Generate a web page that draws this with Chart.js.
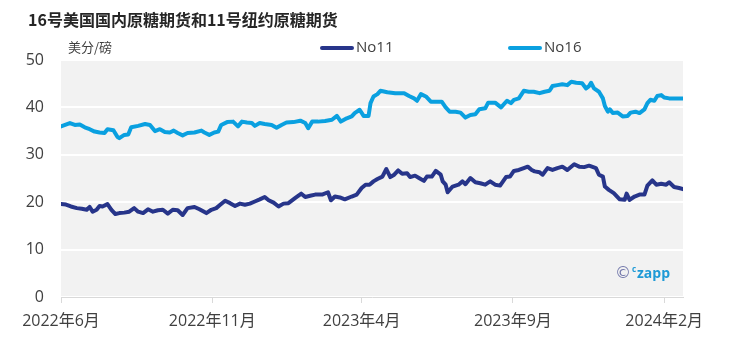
<!DOCTYPE html>
<html>
<head>
<meta charset="utf-8">
<script src="https://cdn.jsdelivr.net/npm/chart.js@4/dist/chart.umd.min.js"></script>
<style>
  html, body { margin: 0; padding: 0; background: #ffffff; }
  #wrap { width: 733px; height: 341px; }
</style>
</head>
<body>
<div id="wrap"><canvas id="c" width="733" height="341"></canvas></div>
<script>
// No.16 US domestic raw sugar futures, US cents per pound
const no16Dates = ['2022-06-01','2022-06-10','2022-06-15','2022-06-20','2022-06-25','2022-06-30','2022-07-05','2022-07-10','2022-07-15','2022-07-18','2022-07-24','2022-07-28','2022-07-30','2022-08-04','2022-08-08','2022-08-11','2022-08-18','2022-08-25','2022-08-30','2022-09-04','2022-09-09','2022-09-14','2022-09-19','2022-09-23','2022-09-27','2022-10-02','2022-10-07','2022-10-14','2022-10-21','2022-10-24','2022-10-29','2022-11-03','2022-11-07','2022-11-10','2022-11-16','2022-11-22','2022-11-27','2022-12-01','2022-12-06','2022-12-11','2022-12-14','2022-12-19','2022-12-24','2022-12-31','2023-01-05','2023-01-10','2023-01-15','2023-01-22','2023-01-29','2023-02-03','2023-02-06','2023-02-10','2023-02-16','2023-02-23','2023-03-02','2023-03-07','2023-03-11','2023-03-17','2023-03-22','2023-03-25','2023-03-30','2023-04-03','2023-04-08','2023-04-10','2023-04-13','2023-04-17','2023-04-20','2023-04-27','2023-05-05','2023-05-14','2023-05-19','2023-05-24','2023-05-27','2023-05-31','2023-06-05','2023-06-10','2023-06-16','2023-06-21','2023-06-25','2023-06-29','2023-07-05','2023-07-10','2023-07-15','2023-07-20','2023-07-25','2023-07-29','2023-08-04','2023-08-07','2023-08-14','2023-08-20','2023-08-26','2023-08-30','2023-09-02','2023-09-07','2023-09-12','2023-09-17','2023-09-22','2023-09-28','2023-10-03','2023-10-08','2023-10-11','2023-10-16','2023-10-21','2023-10-26','2023-10-30','2023-11-04','2023-11-10','2023-11-14','2023-11-17','2023-11-19','2023-11-22','2023-11-27','2023-12-01','2023-12-03','2023-12-06','2023-12-08','2023-12-11','2023-12-16','2023-12-21','2023-12-26','2023-12-29','2024-01-03','2024-01-07','2024-01-12','2024-01-15','2024-01-18','2024-01-22','2024-01-25','2024-01-29','2024-02-01','2024-02-06','2024-02-13','2024-02-20'];
const no16Values = [36.0,36.7,36.3,36.4,35.8,35.4,34.9,34.7,34.6,35.4,35.2,33.8,33.5,34.2,34.3,35.8,36.1,36.5,36.3,35.0,35.4,34.8,34.7,35.1,34.6,34.1,34.6,34.7,35.1,34.7,34.2,34.7,34.9,36.3,36.9,37.0,36.0,37.0,36.8,36.7,36.1,36.7,36.5,36.3,35.7,36.3,36.8,36.9,37.2,36.7,35.6,37.0,37.0,37.15,37.4,38.2,37.0,37.7,38.1,38.8,39.5,38.2,38.2,40.9,42.3,42.8,43.5,43.2,43.0,43.0,42.4,41.9,41.4,42.8,42.3,41.2,41.2,41.2,40.0,39.1,39.1,38.9,37.85,38.4,38.55,39.6,39.8,41.0,41.0,40.0,41.4,40.9,41.6,41.9,43.5,43.3,43.3,43.0,43.3,43.5,44.5,44.7,44.9,44.7,45.4,45.2,45.1,44.0,44.5,45.2,44.0,43.3,41.9,40.3,39.1,39.6,38.8,38.9,38.1,38.2,38.9,39.1,38.8,39.6,40.9,41.6,41.4,42.4,42.6,42.1,41.9,41.9,41.9];

// No.11 New York raw sugar futures, US cents per pound
const no11Dates = ['2022-06-01','2022-06-06','2022-06-11','2022-06-17','2022-06-22','2022-06-27','2022-06-30','2022-07-03','2022-07-07','2022-07-10','2022-07-13','2022-07-18','2022-07-22','2022-07-26','2022-07-30','2022-08-04','2022-08-09','2022-08-14','2022-08-18','2022-08-23','2022-08-28','2022-09-02','2022-09-07','2022-09-12','2022-09-17','2022-09-22','2022-09-27','2022-10-02','2022-10-07','2022-10-14','2022-10-19','2022-10-26','2022-10-31','2022-11-05','2022-11-09','2022-11-14','2022-11-19','2022-11-24','2022-11-29','2022-12-04','2022-12-09','2022-12-14','2022-12-19','2022-12-24','2022-12-28','2023-01-02','2023-01-07','2023-01-12','2023-01-17','2023-01-24','2023-01-30','2023-02-03','2023-02-08','2023-02-13','2023-02-20','2023-02-26','2023-03-01','2023-03-05','2023-03-10','2023-03-15','2023-03-22','2023-03-27','2023-04-01','2023-04-05','2023-04-09','2023-04-13','2023-04-17','2023-04-22','2023-04-26','2023-04-30','2023-05-04','2023-05-08','2023-05-12','2023-05-17','2023-05-20','2023-05-25','2023-05-29','2023-06-03','2023-06-06','2023-06-11','2023-06-15','2023-06-20','2023-06-22','2023-06-25','2023-06-27','2023-07-02','2023-07-08','2023-07-12','2023-07-15','2023-07-20','2023-07-25','2023-07-30','2023-08-04','2023-08-09','2023-08-14','2023-08-19','2023-08-25','2023-08-29','2023-09-02','2023-09-07','2023-09-12','2023-09-16','2023-09-20','2023-09-23','2023-09-28','2023-10-01','2023-10-06','2023-10-11','2023-10-16','2023-10-21','2023-10-26','2023-11-02','2023-11-07','2023-11-12','2023-11-17','2023-11-24','2023-11-27','2023-12-01','2023-12-03','2023-12-07','2023-12-12','2023-12-18','2023-12-23','2023-12-25','2023-12-28','2024-01-02','2024-01-07','2024-01-12','2024-01-15','2024-01-20','2024-01-24','2024-01-29','2024-02-03','2024-02-06','2024-02-11','2024-02-16','2024-02-20'];
const no11Values = [19.6,19.5,19.1,18.75,18.6,18.4,19.0,18.0,18.4,19.2,19.1,19.6,18.4,17.5,17.7,17.8,18.0,18.75,18.0,17.7,18.5,18.0,18.3,18.4,17.6,18.4,18.3,17.3,18.75,19.0,18.5,17.7,18.4,18.75,19.45,20.3,19.8,19.2,19.7,19.45,19.7,20.15,20.6,21.1,20.4,19.9,19.1,19.7,19.8,20.9,21.8,21.1,21.35,21.6,21.6,22.1,20.4,21.2,21.0,20.6,21.2,21.6,23.0,23.7,23.7,24.4,24.9,25.4,27.0,25.3,25.8,26.7,26.0,26.1,25.3,25.6,25.1,24.5,25.4,25.4,26.6,25.8,24.4,23.7,22.1,23.3,23.7,24.4,23.8,25.1,24.2,24.0,23.7,24.4,23.7,23.5,25.3,25.4,26.6,26.8,27.2,27.5,26.8,26.5,26.3,25.8,27.2,26.8,27.2,27.5,26.8,28.0,27.5,27.4,27.7,27.2,25.8,25.4,23.3,22.6,21.9,20.6,20.5,21.8,20.5,21.2,21.6,21.6,23.5,24.6,23.7,23.9,23.7,24.2,23.2,23.0,22.75];

// x-axis month labels
const tickDates = ['2022-06-01','2022-11-01','2023-04-01','2023-09-01','2024-02-01'];
const tickLabels = ['2022年6月','2022年11月','2023年4月','2023年9月','2024年2月'];

const seriesNames = ['No11', 'No16'];
const seriesColors = ['#27358a', '#0aa0e0'];

const origin = Date.parse('2022-06-01');
const dayOf = s => Math.round((Date.parse(s) - origin) / 864e5);
const toPoints = (dates, values) => dates.map((d, i) => ({ x: dayOf(d), y: values[i] }));
const lastDay = Math.max(dayOf(no11Dates[no11Dates.length - 1]), dayOf(no16Dates[no16Dates.length - 1]));

const FONT = "'Open Sans', 'Noto Sans CJK SC', sans-serif";
const CJK = "'Noto Sans CJK SC', 'Open Sans', sans-serif";

const decor = {
  id: 'decor',
  beforeDraw(chart) {
    const { ctx, chartArea: a } = chart;
    ctx.save();
    ctx.fillStyle = '#f2f2f2';
    ctx.fillRect(a.left, a.top, a.right - a.left, a.bottom - a.top);
    ctx.restore();
  },
  afterDraw(chart) {
    const { ctx } = chart;
    ctx.save();
    // title
    ctx.fillStyle = '#262626';
    ctx.font = "bold 16px " + CJK;
    ctx.textBaseline = 'middle';
    ctx.textAlign = 'left';
    ctx.fillText('16号美国国内原糖期货和11号纽约原糖期货', 28, 20);
    // unit
    ctx.fillStyle = '#404040';
    ctx.font = "13px " + CJK;
    ctx.fillText('美分/磅', 68, 47);
    // legend
    const items = [{ x: 320 }, { x: 508 }];
    items.forEach((it, i) => {
      ctx.strokeStyle = seriesColors[i];
      ctx.lineWidth = 4;
      ctx.lineCap = 'round';
      ctx.beginPath();
      ctx.moveTo(it.x + 2, 48);
      ctx.lineTo(it.x + 32, 48);
      ctx.stroke();
      ctx.fillStyle = '#404040';
      ctx.font = "15px " + FONT;
      ctx.fillText(seriesNames[i], it.x + 36, 48);
    });
    // watermark
    ctx.fillStyle = '#7378ab';
    ctx.font = "16px 'DejaVu Sans', sans-serif";
    ctx.fillText('©', 615, 274);
    ctx.fillStyle = '#1f9ad6';
    ctx.font = "bold 8px " + FONT;
    ctx.fillText('c', 632, 270);
    ctx.font = "bold 14px " + FONT;
    ctx.fillText('zapp', 637, 274);
    ctx.restore();
  }
};

new Chart(document.getElementById('c'), {
  type: 'line',
  data: {
    datasets: [
      { label: seriesNames[0], data: toPoints(no11Dates, no11Values), borderColor: seriesColors[0], backgroundColor: seriesColors[0] },
      { label: seriesNames[1], data: toPoints(no16Dates, no16Values), borderColor: seriesColors[1], backgroundColor: seriesColors[1] }
    ]
  },
  options: {
    responsive: false,
    animation: false,
    devicePixelRatio: 1,
    parsing: false,
    layout: { padding: { left: 0, top: 60, right: 50, bottom: 0 } },
    elements: {
      line: { borderWidth: 4, tension: 0, borderJoinStyle: 'round', borderCapStyle: 'round' },
      point: { radius: 0, hoverRadius: 0 }
    },
    plugins: {
      legend: { display: false },
      title: { display: false },
      tooltip: { enabled: false }
    },
    scales: {
      x: {
        type: 'linear',
        min: 0,
        max: lastDay,
        afterFit(scale) { scale.height = 44; },
        afterBuildTicks(scale) { scale.ticks = tickDates.map(d => ({ value: dayOf(d) })); },
        grid: { drawOnChartArea: false, drawTicks: true, tickLength: 6, color: '#d9d9d9', lineWidth: 1 },
        border: { display: true, color: '#d9d9d9', width: 1 },
        ticks: {
          autoSkip: false, maxRotation: 0, padding: 9,
          color: '#404040', font: { family: FONT, size: 16 },
          callback: (v, i) => tickLabels[i]
        }
      },
      y: {
        min: 0,
        max: 50,
        afterFit(scale) { scale.width = 61; },
        grid: { color: '#ffffff', lineWidth: 2, drawTicks: false },
        border: { display: false },
        ticks: { stepSize: 10, padding: 17, color: '#404040', font: { family: FONT, size: 16 } }
      }
    }
  },
  plugins: [decor]
});
</script>
</body>
</html>
